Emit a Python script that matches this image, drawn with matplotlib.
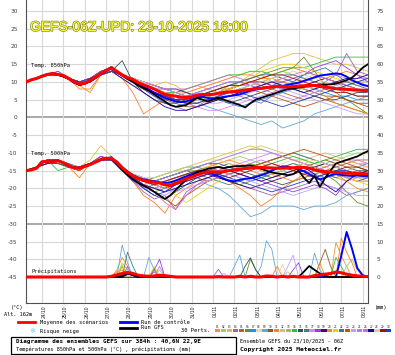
import matplotlib
matplotlib.use('Agg')
import matplotlib.pyplot as plt
import numpy as np
from matplotlib import patheffects as pe
from matplotlib.transforms import ScaledTranslation
from matplotlib.patches import Rectangle
from matplotlib.lines import Line2D

# ---------------- DATA ----------------
hours6 = np.arange(0, 385, 6)      # 65 steps (mean, control, GFS)
hours12 = np.arange(0, 385, 12)    # 33 steps (perturbations)
date_labels = ["24/10", "25/10", "26/10", "27/10", "28/10", "29/10", "30/10", "31/10",
               "01/11", "02/11", "03/11", "04/11", "05/11", "06/11", "07/11", "08/11"]
left_ticks = list(range(-45, 31, 5))
right_ticks = list(range(0, 76, 5))

mean_850 = [10, 10.6, 11, 11.6, 12.1, 12.4, 12.1, 11.8, 11, 10, 9.4, 9.6, 10.5, 11.3, 12.4, 13.3,
            14, 13, 12, 11.2, 10.7, 9.8, 9.2, 8.6, 8, 7.2, 6.5, 6.2, 6, 5.7, 5.6, 5.8, 6.3, 6.5,
            6.4, 6.5, 6.8, 7, 7.2, 7.3, 7.5, 7.7, 7.9, 8.1, 8.2, 8.4, 8.6, 8.7, 8.7, 8.6, 8.7,
            8.8, 8.9, 9, 9, 8.9, 8.6, 8.3, 8.1, 8, 7.9, 7.8, 7.7, 7.6, 7.6]
gfs_850 = [10, 10.5, 11, 11.5, 12, 12.5, 12, 11.5, 10.8, 9.8, 9.2, 9.5, 10.2, 11.2, 12.2, 13.2,
           14.2, 13, 11.8, 10.8, 10, 9, 8.3, 7.5, 6.5, 5.5, 4.5, 3.5, 3, 3.2, 3.5, 4.5, 5.5, 5,
           4.5, 5, 5.5, 5, 4.5, 4, 3.5, 2.8, 4, 5, 5.5, 6, 6.5, 7, 7.5, 8, 8.2, 8.4, 8.6, 8.8,
           9, 9.2, 9.3, 9.3, 9.5, 10, 10.5, 11.2, 12.5, 14, 15]
ctrl_850 = [10, 10.6, 11, 11.7, 12.2, 12.3, 12, 11.6, 10.9, 9.9, 9.3, 9.7, 10.6, 11.4, 12.3, 13.1,
            13.8, 12.8, 11.8, 11, 10.3, 9.5, 8.5, 7.8, 7, 6.2, 5.5, 5, 4.5, 4.3, 4.5, 5, 5.5, 5.8,
            5.5, 5.2, 5.5, 5.8, 6, 6.2, 6.5, 7, 7.5, 7.9, 8.2, 8.4, 8.6, 8.7, 8.9, 9.2, 9.5, 9.8,
            10.3, 10.8, 11.3, 11.8, 12, 12.2, 12.4, 12.2, 11.5, 10.5, 9.8, 9.2, 8.8]

mean_500 = [-15, -14.8, -14.3, -12.5, -12.4, -12.6, -12.2, -12.8, -13.5, -14.2, -14.3, -13.8,
            -13.3, -12.6, -11.9, -11.5, -11.6, -12.6, -14.2, -15.5, -16.5, -17.2, -17.8, -18.1,
            -18.3, -18.5, -19, -19.2, -18.6, -18, -17.3, -16.8, -16.2, -15.7, -15.4, -15.3,
            -15.4, -15.3, -15, -14.8, -14.6, -14.4, -14.3, -14.1, -14.1, -14.2, -14.3, -14.3,
            -14.3, -14.2, -14.2, -14.1, -14.1, -14.3, -14.8, -15.1, -15.3, -15.4, -15.5, -15.6,
            -15.7, -15.8, -15.8, -15.9, -15.9]
gfs_500 = [-15, -14.7, -14.2, -12.6, -12.3, -12.5, -12.3, -12.8, -13.6, -14.1, -14.4, -13.7,
           -13.2, -12.5, -11.8, -11.4, -11.8, -13, -14.8, -16.2, -17.5, -18.5, -19.3, -20, -21,
           -22, -23, -22, -20.5, -19, -17.5, -16.5, -15.5, -15, -14.5, -14.2, -14, -14.3, -14,
           -13.8, -13.7, -13.7, -13.5, -14, -14.5, -15, -15.5, -15.8, -16, -16.3, -16, -15, -17,
           -18.5, -16.5, -19.6, -17, -15, -13, -12.5, -12, -11.5, -11, -10.2, -9.5]
ctrl_500 = [-15, -14.8, -14.3, -12.5, -12.5, -12.6, -12.2, -12.9, -13.5, -14.3, -14.2, -13.9,
            -13.3, -12.7, -12, -11.6, -11.7, -12.5, -14, -15.3, -16.3, -17, -17.5, -17.8, -18,
            -18.3, -18.5, -18.3, -17.8, -17.2, -16.6, -16, -15.4, -15.2, -15.5, -16, -16.6,
            -17.3, -17.8, -18, -17.6, -17.3, -17.2, -16.8, -16.3, -15.8, -15, -14.3, -13.8,
            -13.9, -14.3, -14.6, -15.2, -16, -16.8, -17.5, -17, -16.3, -16, -16.2, -16.4, -16.5,
            -16.4, -16.5, -16.5]

# precipitation (mm), non-zero 6h values only: {hour: mm}
mean_pr = {96: 0.2, 102: 0.6, 108: 1.0, 114: 1.3, 120: 1.0, 126: 0.5, 132: 0.3, 138: 0.2, 144: 0.3,
           150: 0.5, 156: 0.4, 162: 0.2, 216: 0.1, 240: 0.2, 252: 0.2, 270: 0.3, 276: 0.2,
           288: 0.2, 300: 0.2, 324: 0.4, 330: 0.6, 336: 0.8, 342: 1.0, 348: 1.4, 354: 1.2,
           360: 0.8, 366: 0.5, 372: 0.3, 378: 0.2, 384: 0.1}
ctrl_pr = {108: 0.5, 114: 1.0, 120: 0.5, 354: 6, 360: 12.7, 366: 8, 372: 2.5, 378: 0.5}
gfs_pr = {114: 1.0, 120: 0.6, 312: 1.5, 318: 3.1, 324: 2, 330: 1, 336: 0.3}
# (member, hour, mm)
member_pr = [(1, 102, 2), (1, 108, 5.5), (1, 114, 3), (9, 108, 9), (9, 114, 4), (16, 114, 7),
             (16, 120, 3), (3, 108, 4), (3, 114, 2), (14, 108, 3), (4, 114, 3), (21, 108, 3.5),
             (24, 114, 2.5), (11, 102, 1.5), (11, 108, 2), (9, 138, 5.5), (9, 144, 2),
             (18, 150, 5), (18, 144, 2), (14, 144, 2.5), (21, 144, 3), (12, 150, 2), (25, 150, 3),
             (5, 144, 1.5), (4, 216, 2.2), (24, 222, 1), (9, 234, 3), (9, 240, 6.2), (15, 246, 3),
             (15, 252, 5.4), (15, 258, 2), (6, 252, 5), (6, 258, 2), (9, 264, 3), (9, 270, 10.2),
             (9, 276, 7.8), (11, 282, 3), (28, 288, 3.5), (24, 294, 3), (24, 300, 6.2),
             (18, 306, 4), (18, 300, 2), (12, 294, 1.5), (9, 324, 6.7), (9, 330, 2), (10, 330, 4),
             (10, 336, 7.8), (10, 342, 3), (20, 330, 4), (1, 348, 9.7), (1, 354, 6), (1, 360, 3),
             (11, 354, 11), (11, 360, 7), (11, 366, 4), (14, 348, 5.5), (14, 354, 3), (2, 360, 3),
             (2, 366, 5), (2, 372, 2), (8, 372, 2), (21, 360, 1)]

members_850 = [
    [10,11,12,12,11,9,10,12,13,12,11,9,8,6,7,8,9,8,7,9,10,11,12,10,9,8,9,10,11,10,8,7,7],
    [10,11,12,13,11,10,11,13,14,12,10,8,7,6,5,4,5,7,8,8,9,10,11,12,13,12,11,10,9,8,9,10,11],
    [10,11,12,12,11,9,10,12,13,11,9,8,9,10,9,7,6,5,6,8,10,12,14,16,17,18,18,17,16,15,15,14,13],
    [10,11,12,12,11,10,11,13,13,12,10,8,6,4,3,2,3,5,6,7,6,5,4,6,8,10,9,8,10,12,18,13,12],
    [10,11,12,12,11,9,10,12,13,12,10,9,8,7,5,4,3,4,6,8,9,10,9,8,7,6,5,6,5,4,3,2,1],
    [10,11,12,12,11,9,10,12,13,12,11,10,9,8,7,6,6,7,8,9,10,11,12,13,14,14,17,13,9,7,5,3,1],
    [10,11,12,12,11,10,11,12,13,12,10,8,6,4,3,4,5,6,5,4,3,4,5,6,7,8,9,8,7,6,6,5,5],
    [10,11,12,12,11,10,10,12,13,12,11,10,9,8,7,7,8,9,10,11,12,13,13,12,11,10,11,12,11,10,10,9,9],
    [10,11,12,12,11,9,10,12,13,12,10,8,7,6,6,5,4,3,2,1,0,-1,-2,-1,-3,-2,-1,1,2,3,4,5,6],
    [10,11,12,12,11,10,11,13,14,12,10,8,7,5,4,3,3,4,5,6,7,8,9,10,10,9,8,7,6,6,5,4,4],
    [10,11,12,12,11,8,8,12,13,11,7,1,3,5,6,7,8,9,10,11,12,12,11,12,13,14,13,12,11,12,13,12,11],
    [10,11,12,12,11,10,10,12,13,12,10,9,8,7,6,6,7,8,9,8,7,8,9,10,11,10,9,8,9,10,9,8,8],
    [10,11,12,12,11,9,10,12,13,12,10,9,8,7,6,5,5,6,7,8,9,9,10,10,9,8,8,7,8,9,10,10,10],
    [10,11,12,12,11,10,11,12,13,12,11,9,8,7,7,8,9,10,11,12,12,13,13,12,13,14,14,15,16,17,17,17,17],
    [10,11,12,12,11,10,10,12,13,16,10,7,5,4,4,5,6,6,5,4,5,6,7,8,9,8,7,6,5,5,6,7,7],
    [10,11,12,12,11,9,10,12,13,12,10,9,8,8,7,6,5,5,6,7,8,9,10,11,12,12,11,10,9,8,7,6,6],
    [10,11,12,12,11,10,11,12,13,12,10,8,7,6,5,4,3,2,2,3,4,5,6,7,8,9,10,11,12,12,11,10,9],
    [10,11,12,13,11,10,11,13,14,12,10,8,6,5,5,6,7,8,9,10,10,9,8,9,10,11,12,14,15,16,14,12,10],
    [10,11,12,12,11,9,10,12,13,12,11,10,9,8,8,7,6,6,7,8,9,10,10,9,8,8,9,10,11,10,9,8,7],
    [10,11,12,12,11,9,7,12,13,12,10,9,8,6,5,4,5,6,7,8,9,10,11,11,10,9,8,7,6,4,3,2,1],
    [10,11,12,12,11,10,10,12,13,12,10,9,8,7,6,5,5,6,7,8,9,11,13,14,15,15,14,13,12,11,10,9,9],
    [10,11,12,12,11,10,11,12,13,12,10,8,7,6,5,5,6,7,8,9,10,11,12,12,11,10,12,13,14,12,10,9,8],
    [10,11,12,12,11,10,10,12,13,12,10,9,7,6,5,4,4,5,6,7,8,8,7,6,5,4,3,4,5,6,5,4,3],
    [10,11,12,12,11,10,10,12,13,12,11,10,9,8,7,6,5,4,4,5,6,7,8,9,8,7,6,5,4,3,2,1,1],
    [10,11,12,12,11,9,10,12,13,12,10,9,8,7,6,6,7,8,9,10,10,9,8,7,6,5,6,7,8,9,10,11,11],
    [10,11,12,12,11,10,11,12,13,12,11,10,9,8,8,8,9,10,11,12,11,10,9,10,11,12,13,12,11,10,9,8,7],
    [10,11,12,12,11,10,10,12,13,11,9,7,5,3,2,2,3,4,5,6,7,8,9,10,9,8,7,8,9,10,11,11,12],
    [10,11,12,12,11,10,10,12,13,12,11,10,8,7,6,5,5,6,6,7,8,9,10,11,12,13,12,11,10,9,8,8,8],
    [10,11,12,12,11,10,10,12,13,12,10,8,7,6,5,5,6,7,8,9,9,10,11,12,12,11,10,9,8,7,7,6,6],
    [10,11,12,12,11,10,11,12,13,12,10,9,7,6,5,4,4,5,6,7,7,6,5,4,3,4,5,6,7,8,9,10,11],
]

members_500 = [
    [-15,-14,-13,-13,-14,-15,-13,-11,-12,-15,-17,-19,-18,-17,-16,-15,-14,-13,-14,-15,-16,-17,-16,-15,-14,-13,-14,-15,-16,-17,-18,-17,-16],
    [-15,-14,-12,-12,-14,-14,-13,-12,-12,-14,-16,-17,-19,-20,-18,-16,-15,-14,-13,-12,-11,-12,-13,-12,-11,-10,-11,-12,-13,-12,-11,-10,-10],
    [-15,-14,-13,-12,-14,-14,-12,-8,-11,-15,-17,-18,-17,-16,-15,-14,-13,-12,-11,-10,-9,-8,-9,-10,-11,-12,-12,-13,-14,-15,-16,-17,-18],
    [-15,-14,-12,-13,-14,-14,-13,-12,-12,-15,-18,-21,-23,-22,-26,-21,-19,-18,-17,-18,-19,-20,-21,-22,-21,-20,-19,-18,-19,-20,-22,-21,-20],
    [-15,-14,-13,-12,-14,-15,-13,-11,-12,-15,-17,-18,-19,-18,-17,-16,-17,-18,-17,-16,-15,-14,-13,-12,-11,-12,-13,-14,-15,-14,-13,-12,-12],
    [-15,-14,-12,-13,-14,-14,-13,-11,-12,-15,-17,-19,-21,-20,-19,-18,-17,-16,-17,-18,-19,-18,-17,-16,-15,-14,-13,-14,-16,-18,-21,-24,-25],
    [-15,-14,-12,-12,-13,-14,-13,-12,-12,-15,-18,-20,-19,-18,-17,-16,-15,-14,-15,-16,-17,-18,-17,-16,-15,-14,-15,-16,-17,-16,-15,-14,-13],
    [-15,-14,-13,-13,-14,-14,-13,-12,-12,-15,-17,-18,-17,-16,-15,-15,-14,-14,-13,-12,-12,-13,-14,-14,-13,-12,-12,-13,-14,-15,-14,-13,-13],
    [-15,-14,-12,-12,-14,-14,-13,-11,-12,-15,-17,-18,-19,-18,-17,-16,-17,-19,-20,-22,-25,-28,-27,-25,-25,-25,-26,-25,-25,-24,-22,-21,-20],
    [-15,-14,-13,-12,-14,-15,-13,-12,-12,-15,-17,-19,-20,-19,-18,-17,-16,-15,-14,-13,-14,-15,-16,-17,-16,-15,-14,-13,-12,-13,-14,-15,-16],
    [-15,-14,-12,-13,-14,-17,-13,-11,-12,-15,-18,-22,-24,-27,-22,-20,-18,-17,-16,-18,-20,-22,-25,-23,-20,-18,-16,-15,-14,-13,-12,-13,-14],
    [-15,-14,-13,-12,-14,-14,-13,-12,-12,-14,-16,-17,-18,-17,-16,-15,-14,-13,-12,-11,-10,-9,-8,-9,-10,-11,-12,-11,-10,-11,-12,-13,-13],
    [-15,-14,-12,-12,-14,-14,-13,-12,-12,-15,-17,-19,-18,-17,-16,-15,-15,-16,-17,-16,-15,-14,-13,-14,-15,-16,-15,-14,-13,-14,-15,-16,-16],
    [-15,-14,-12,-15,-14,-14,-13,-12,-12,-15,-17,-18,-17,-16,-15,-14,-14,-15,-16,-15,-14,-13,-14,-13,-12,-11,-12,-13,-12,-11,-10,-9,-9],
    [-15,-14,-13,-13,-14,-14,-13,-12,-11,-14,-17,-20,-22,-23,-21,-19,-17,-16,-15,-14,-15,-16,-17,-18,-19,-18,-17,-16,-15,-16,-17,-18,-17],
    [-15,-14,-12,-12,-14,-14,-13,-12,-12,-15,-16,-17,-18,-17,-16,-15,-16,-17,-18,-19,-18,-17,-16,-15,-14,-13,-14,-15,-16,-17,-16,-15,-15],
    [-15,-14,-12,-12,-14,-14,-13,-12,-12,-15,-18,-20,-21,-22,-20,-18,-17,-16,-15,-14,-13,-12,-11,-10,-11,-12,-13,-14,-15,-16,-17,-18,-18],
    [-15,-14,-12,-12,-14,-14,-13,-11,-12,-15,-18,-19,-20,-21,-19,-17,-16,-15,-14,-15,-16,-17,-18,-19,-20,-21,-20,-19,-20,-22,-18,-16,-15],
    [-15,-14,-13,-12,-14,-14,-13,-12,-12,-15,-17,-18,-19,-20,-19,-18,-17,-16,-17,-18,-19,-20,-19,-18,-17,-16,-15,-14,-13,-14,-15,-16,-17],
    [-15,-14,-12,-12,-14,-15,-13,-12,-12,-15,-17,-18,-19,-18,-17,-16,-15,-14,-13,-12,-13,-14,-15,-16,-17,-18,-17,-16,-15,-16,-18,-20,-21],
    [-15,-14,-12,-12,-14,-14,-13,-12,-12,-15,-17,-19,-20,-19,-22,-24,-22,-20,-18,-16,-15,-14,-13,-12,-11,-12,-13,-14,-15,-16,-17,-18,-19],
    [-15,-14,-12,-12,-14,-14,-13,-12,-12,-15,-17,-18,-18,-17,-16,-15,-14,-13,-13,-14,-15,-14,-13,-12,-11,-10,-11,-12,-13,-14,-15,-16,-16],
    [-15,-14,-12,-12,-14,-15,-13,-12,-12,-15,-17,-19,-21,-23,-25,-22,-20,-18,-17,-16,-15,-14,-13,-12,-11,-10,-9,-10,-11,-12,-13,-14,-15],
    [-15,-14,-12,-12,-14,-14,-13,-12,-12,-15,-17,-18,-19,-20,-21,-20,-19,-18,-17,-16,-17,-18,-19,-20,-21,-22,-21,-20,-19,-20,-21,-22,-22],
    [-15,-14,-12,-12,-14,-14,-13,-12,-12,-15,-16,-17,-18,-17,-16,-15,-14,-13,-12,-11,-10,-9,-9,-10,-11,-12,-13,-14,-15,-16,-17,-17,-17],
    [-15,-14,-12,-12,-14,-14,-13,-12,-12,-15,-17,-19,-21,-24,-26,-22,-19,-17,-16,-15,-14,-13,-12,-13,-14,-15,-16,-15,-14,-13,-12,-12,-13],
    [-15,-14,-12,-12,-14,-14,-13,-12,-12,-15,-17,-19,-20,-21,-20,-19,-18,-17,-16,-15,-16,-17,-18,-17,-16,-15,-14,-16,-19,-21,-18,-16,-15],
    [-15,-14,-12,-12,-14,-14,-13,-12,-12,-15,-16,-17,-17,-16,-15,-14,-13,-12,-12,-13,-14,-15,-16,-16,-15,-14,-13,-12,-13,-14,-15,-14,-14],
    [-15,-14,-12,-12,-14,-14,-13,-12,-12,-15,-17,-18,-19,-18,-17,-16,-15,-15,-16,-17,-16,-15,-14,-13,-14,-15,-16,-17,-16,-15,-14,-14,-15],
    [-15,-14,-12,-12,-14,-14,-13,-12,-12,-15,-17,-20,-22,-21,-19,-17,-16,-15,-16,-17,-18,-19,-20,-21,-20,-19,-18,-17,-16,-15,-15,-16,-16],
]

member_colors = ['#f0903c', '#9ccc6c', '#e0c040', '#a060c0', '#c06020', '#6b8e23', '#2090f0',
                 '#e8d8b0', '#60a8d8', '#8b5a2b', '#ff7f27', '#d0c080', '#b0b060', '#30c030',
                 '#305060', '#408080', '#e080ff', '#9040e0', '#500070', '#f09020', '#f0d000',
                 '#4070a0', '#c05010', '#c0a0ff', '#b080f0', '#d070d0', '#2000a0', '#e0d0a0',
                 '#a01010', '#2040c0']

# ---------------- FIGURE ----------------
W, H = 395, 355
fig = plt.figure(figsize=(W / 100, H / 100), dpi=100)
fig.patch.set_facecolor('white')


def fx(px):
    return px / W


def fy(py):
    return 1 - py / H


ax = fig.add_axes([fx(26), fy(303), 342 / W, 303 / H])
ylo, yhi = -52.33, 33.1
ax.set_xlim(0, 384)
ax.set_ylim(ylo, yhi)

# grid
for v in left_ticks:
    if v in (0, -30):
        ax.axhline(v, color='#a8a8a8', lw=1.4, zorder=0)
    else:
        ax.axhline(v, color='#d8d8d8', lw=0.8, zorder=0)
day_hours = [18 + 24 * k for k in range(len(date_labels))]
for d in day_hours:
    ax.axvline(d, color='#d8d8d8', lw=0.8, zorder=0)

PR_OFF = -45  # precipitation zero sits at -45 on the °C axis


def pr_series(d):
    arr = np.zeros(len(hours6))
    for h, v in d.items():
        arr[h // 6] = v
    return arr


# perturbations
mem_pr = [np.zeros(len(hours6)) for _ in range(30)]
for m, h, v in member_pr:
    mem_pr[m - 1][h // 6] = v

for i in range(30):
    c = member_colors[i]
    ax.plot(hours12, members_850[i], color=c, lw=0.6, zorder=2)
    ax.plot(hours12, members_500[i], color=c, lw=0.6, zorder=2)
    ax.plot(hours6, mem_pr[i] + PR_OFF, color=c, lw=0.6, zorder=2)

# control, GFS, mean
ax.plot(hours6, ctrl_850, color='#0000ff', lw=1.4, zorder=4)
ax.plot(hours6, ctrl_500, color='#0000ff', lw=1.4, zorder=4)
ax.plot(hours6, pr_series(ctrl_pr) + PR_OFF, color='#0000ff', lw=1.4, zorder=4)
ax.plot(hours6, gfs_850, color='black', lw=1.3, zorder=5)
ax.plot(hours6, gfs_500, color='black', lw=1.3, zorder=5)
ax.plot(hours6, pr_series(gfs_pr) + PR_OFF, color='black', lw=1.3, zorder=5)
ax.plot(hours6, mean_850, color='#ff0000', lw=2.2, zorder=6)
ax.plot(hours6, mean_500, color='#ff0000', lw=2.2, zorder=6)
ax.plot(hours6, pr_series(mean_pr) + PR_OFF, color='#ff0000', lw=2.2, zorder=6)

# axes styling
ax.spines['top'].set_visible(False)
for s in ('left', 'right', 'bottom'):
    ax.spines[s].set_color('#505050')
    ax.spines[s].set_linewidth(0.8)
ax.set_yticks(left_ticks)
ax.set_yticklabels([str(v) for v in left_ticks])
ax.tick_params(axis='y', length=0, pad=6, labelsize=4.2, labelcolor='#404040')
ax.set_xticks(day_hours)
ax.set_xticklabels(date_labels, rotation=90, fontsize=3.6, family='Liberation Sans')
ax.tick_params(axis='x', length=0, pad=1.5, labelcolor='#202020')
for lab in ax.get_xticklabels():
    lab.set_transform(lab.get_transform() + ScaledTranslation(2 / 100, 0, fig.dpi_scale_trans))

ax2 = ax.twinx()
ax2.set_ylim(ylo - PR_OFF, yhi - PR_OFF)
ax2.set_yticks(right_ticks)
ax2.set_yticklabels([str(v) for v in right_ticks])
ax2.tick_params(axis='y', length=0, pad=6, labelsize=4.2, labelcolor='#404040')
for s in ax2.spines.values():
    s.set_visible(False)

# in-plot labels
mono = 'DejaVu Sans Mono'
fig.text(fx(31), fy(66), 'Temp. 850hPa', fontsize=3.9, family=mono, va='center', color='#101010')
fig.text(fx(31), fy(153), 'Temp. 500hPa', fontsize=3.9, family=mono, va='center', color='#101010')
fig.text(fx(31), fy(271), 'Précipitations', fontsize=3.9, family=mono, va='center', color='#101010')

# title
fig.text(fx(30), fy(27), 'GEFS-06Z-UPD: 23-10-2025 16:00', fontsize=10,
         family='Liberation Sans', color='#ffff30', va='center', ha='left',
         path_effects=[pe.Stroke(linewidth=1.0, foreground='#8a8a30'), pe.Normal()])

# bottom-left axis notes
fig.text(fx(11), fy(307), '(°C)', fontsize=3.8, family=mono, va='center')
fig.text(fx(4), fy(314), 'Alt. 162m', fontsize=3.8, family=mono, va='center')
fig.text(fx(375), fy(307), '(mm)', fontsize=3.8, family=mono, va='center')

# legend
fig.add_artist(Line2D([fx(18), fx(35)], [fy(322), fy(322)], color='#ff0000', lw=2.0))
fig.text(fx(40), fy(322.5), 'Moyenne des scénarios', fontsize=3.9, family=mono, va='center')
fig.add_artist(Line2D([fx(120), fx(137)], [fy(322), fy(322)], color='#0000ff', lw=2.0))
fig.text(fx(141), fy(322.5), 'Run de contrôle', fontsize=3.9, family=mono, va='center')
fig.add_artist(Line2D([fx(120), fx(137)], [fy(328), fy(328)], color='black', lw=2.0))
fig.text(fx(141), fy(327.8), 'Run GFS', fontsize=3.9, family=mono, va='center')
fig.text(fx(32), fy(331), '\u2744', fontsize=5, family='DejaVu Sans', color='#80c4f0',
         va='center', ha='center')
fig.text(fx(40), fy(332), 'Risque neige', fontsize=3.9, family=mono, va='center')
fig.text(fx(181), fy(331), '30 Perts.', fontsize=3.9, family=mono, va='center')

bx0, bw = 215.0, 5.9
for i in range(30):
    x0 = bx0 + i * bw
    fig.add_artist(Rectangle((fx(x0), fy(331.5)), (bw - 0.6) / W, 3 / H,
                             facecolor=member_colors[i], edgecolor='none'))
    fig.text(fx(x0 + bw / 2 - 0.3), fy(326.5), '%02d' % (i + 1), fontsize=2.2, family=mono,
             ha='center', va='center', color='#202020')

# info box
fig.add_artist(Rectangle((fx(11), fy(354)), 225 / W, 17 / H, facecolor='none',
                         edgecolor='black', lw=0.9))
fig.text(fx(16), fy(341.5), 'Diagramme des ensembles GEFS sur 384h : 40,6N 22,9E',
         fontsize=4.3, family=mono, weight='bold', va='center')
fig.text(fx(16), fy(349), 'Températures 850hPa et 500hPa (°C) , précipitations (mm)',
         fontsize=3.8, family=mono, va='center')
fig.text(fx(240), fy(341), 'Ensemble GEFS du 23/10/2025 - 06Z', fontsize=3.8, family=mono,
         va='center')
fig.text(fx(240), fy(350), 'Copyright 2025 Meteociel.fr', fontsize=4.5, family=mono,
         weight='bold', va='center')

fig.savefig('out.png', dpi=100, facecolor='white')
